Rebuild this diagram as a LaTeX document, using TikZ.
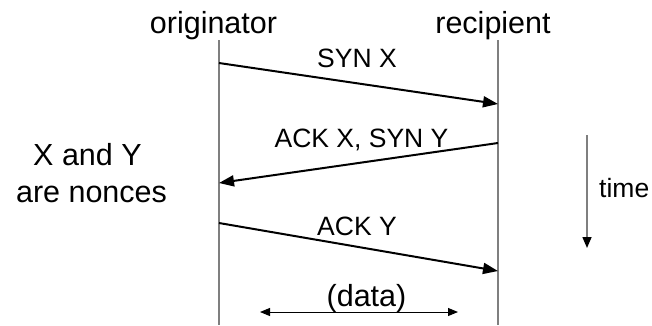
\documentclass[tikz,border=0pt]{standalone}
\usepackage{fontspec}
\setmainfont{Liberation Sans}
\usetikzlibrary{arrows.meta}
\definecolor{lifegray}{HTML}{7F7F7F}
\tikzset{
  big/.style={font=\fontsize{30.5}{37}\selectfont, inner sep=0pt, anchor=base},
  small/.style={font=\fontsize{26.5}{30}\selectfont, inner sep=0pt, anchor=base},
  lifeline/.style={draw=lifegray, line width=1.5pt},
  msg/.style={draw=black, line width=2pt, -{Triangle[length=15pt,width=11pt]}},
  datarrow/.style={draw=black, line width=1pt, {Triangle[length=10pt,width=8pt]}-{Triangle[length=10pt,width=8pt]}},
  timearrow/.style={draw=lifegray, line width=1.5pt, -{Triangle[length=11pt,width=9pt,fill=black,color=black]}}
}
\begin{document}
\begin{tikzpicture}[x=1pt,y=-1pt]
\useasboundingbox (0,0) rectangle (652,325);
% headers
\node[big] (orig) at (213.5,33) {originator};
\node[big] (reci) at (493,33) {recipient};
% lifelines
\coordinate (Ltop) at (219,40);
\coordinate (Lbot) at (219,325);
\coordinate (Rtop) at (498,40);
\coordinate (Rbot) at (498,325);
\draw[lifeline] (Ltop) -- (Lbot);
\draw[lifeline] (Rtop) -- (Rbot);
% message endpoints
\coordinate (m1s) at (219,63);
\coordinate (m1e) at (498,104);
\coordinate (m2s) at (498,143);
\coordinate (m2e) at (219,183);
\coordinate (m3s) at (219,223);
\coordinate (m3e) at (498,271);
\draw[msg] (m1s) -- (m1e);
\draw[msg] (m2s) -- (m2e);
\draw[msg] (m3s) -- (m3e);
% labels
\node[small] (l1) at (357,67) {SYN X};
\node[small] (l2) at (361.5,147) {ACK X, SYN Y};
\node[small] (l3) at (357,235) {ACK Y};
% data
\node[big] (data) at (366.5,306) {(data)};
\coordinate (d1) at (260,312);
\coordinate (d2) at (458,312);
\draw[datarrow] (d1) -- (d2);
% nonces
\node[big] (n1) at (87.5,165) {X and Y};
\node[big] (n2) at (91.5,202) {are nonces};
% time
\coordinate (t1) at (587,135);
\coordinate (t2) at (587,248);
\draw[timearrow] (t1) -- (t2);
\node[small, anchor=base west] (time) at (599,197) {time};
\end{tikzpicture}
\end{document}
